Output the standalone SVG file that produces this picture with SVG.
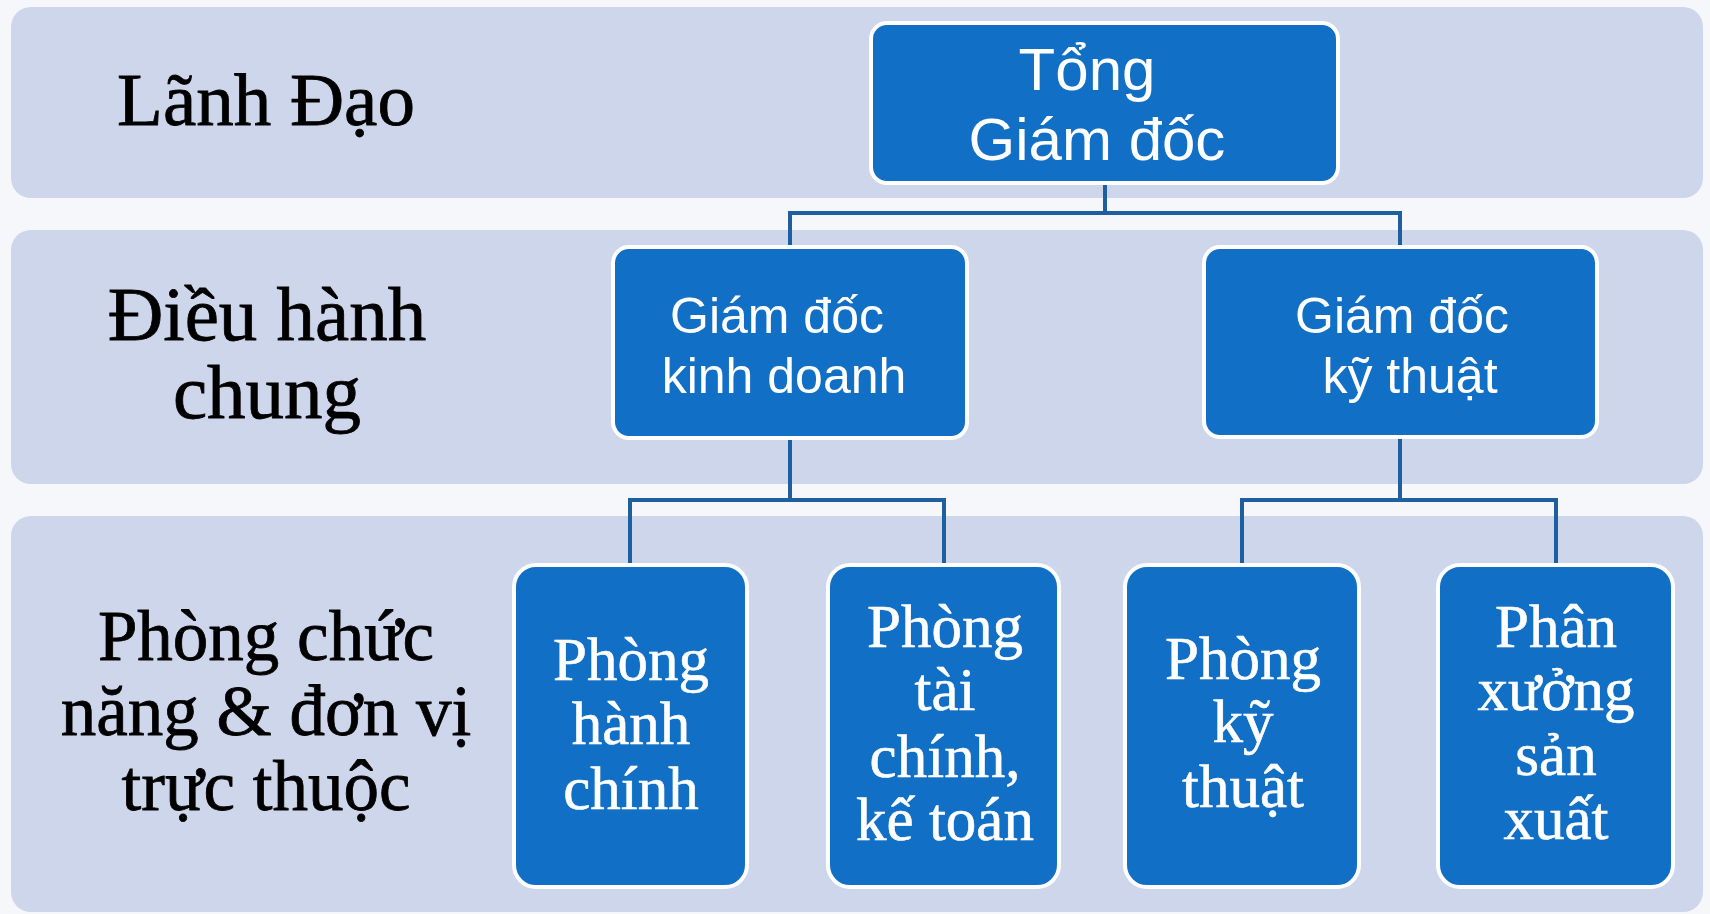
<svg xmlns="http://www.w3.org/2000/svg" width="1710" height="914" viewBox="0 0 1710 914">
<style>
.band{fill:#CDD6EA;}
.node{fill:#116FC6;stroke:#FFFFFF;stroke-width:4;}
.conn{fill:none;stroke:#1F5E9F;stroke-width:4;}
.lbl{font-family:"Liberation Serif","Times New Roman",serif;fill:#000000;stroke:#000000;stroke-width:0.8;text-anchor:middle;}
.sans{font-family:"Liberation Sans",Arial,sans-serif;fill:#FFFFFF;text-anchor:middle;}
.serifw{font-family:"Liberation Serif","Times New Roman",serif;fill:#FFFFFF;stroke:#FFFFFF;stroke-width:0.6;text-anchor:middle;font-size:61px;}
</style>
<rect x="0" y="0" width="1710" height="914" fill="#F6F7FB"/>
<g id="bands">
<rect class="band" x="11" y="7" width="1692" height="191" rx="20"/>
<rect class="band" x="11" y="230" width="1692" height="254" rx="20"/>
<rect class="band" x="11" y="516" width="1692" height="396" rx="20"/>
</g>
<g id="band-labels">
<text class="lbl" x="266" y="125" font-size="75">Lãnh Đạo</text>
<text class="lbl" x="267" y="340" font-size="77">Điều hành</text>
<text class="lbl" x="267" y="418" font-size="77">chung</text>
<text class="lbl" x="266" y="660" font-size="71">Phòng chức</text>
<text class="lbl" x="266" y="735" font-size="71">năng &amp; đơn vị</text>
<text class="lbl" x="266" y="810" font-size="71">trực thuộc</text>
</g>
<g id="connectors">
<path class="conn" d="M1105 183 V213 M790 213 H1400 M790 211 V247 M1400 211 V247"/>
<path class="conn" d="M790 438 V500 M630 500 H944 M630 498 V565 M944 498 V565"/>
<path class="conn" d="M1400 437 V500 M1242 500 H1556 M1242 498 V565 M1556 498 V565"/>
</g>
<g id="node-tgd">
<rect class="node" x="871" y="23" width="467" height="160" rx="16"/>
<text class="sans" x="1087" y="90" font-size="60">Tổng</text>
<text class="sans" x="1097" y="160" font-size="60">Giám đốc</text>
</g>
<g id="node-gdkd">
<rect class="node" x="613" y="247" width="354" height="191" rx="16"/>
<text class="sans" x="777" y="333" font-size="50">Giám đốc</text>
<text class="sans" x="784" y="393" font-size="50">kinh doanh</text>
</g>
<g id="node-gdkt">
<rect class="node" x="1204" y="247" width="393" height="190" rx="16"/>
<text class="sans" x="1402" y="333" font-size="50">Giám đốc</text>
<text class="sans" x="1410" y="393" font-size="50">kỹ thuật</text>
</g>
<g id="node-phc">
<rect class="node" x="514" y="565" width="233" height="322" rx="22"/>
<text class="serifw" x="631" y="680">Phòng</text>
<text class="serifw" x="631" y="744">hành</text>
<text class="serifw" x="631" y="809">chính</text>
</g>
<g id="node-ptckt">
<rect class="node" x="828" y="565" width="231" height="322" rx="22"/>
<text class="serifw" x="945" y="647">Phòng</text>
<text class="serifw" x="945" y="710">tài</text>
<text class="serifw" x="945" y="777">chính,</text>
<text class="serifw" x="945" y="840">kế toán</text>
</g>
<g id="node-pkt">
<rect class="node" x="1125" y="565" width="234" height="322" rx="22"/>
<text class="serifw" x="1243" y="679">Phòng</text>
<text class="serifw" x="1243" y="742">kỹ</text>
<text class="serifw" x="1243" y="807">thuật</text>
</g>
<g id="node-pxsx">
<rect class="node" x="1438" y="565" width="235" height="322" rx="22"/>
<text class="serifw" x="1556" y="647">Phân</text>
<text class="serifw" x="1556" y="710">xưởng</text>
<text class="serifw" x="1556" y="775">sản</text>
<text class="serifw" x="1556" y="839">xuất</text>
</g>
</svg>
